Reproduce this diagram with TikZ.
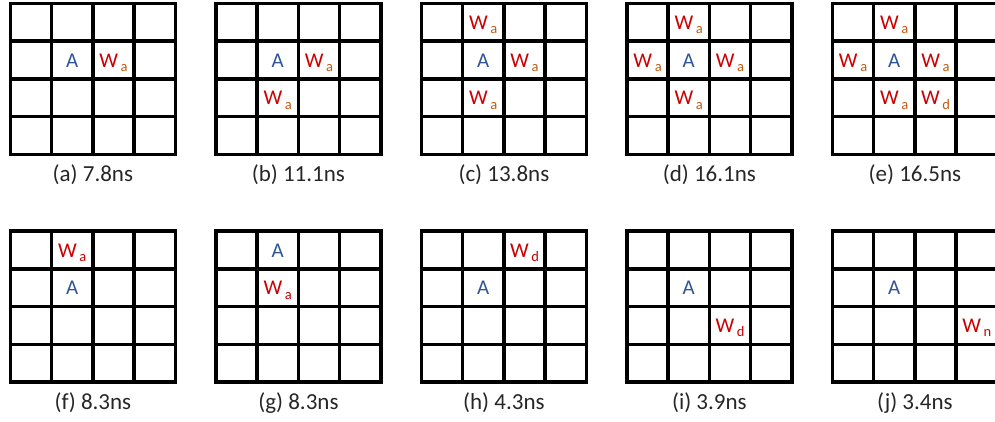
\documentclass[tikz,border=0pt]{standalone}
\usepackage{fontspec}
\setmainfont{Carlito}
\definecolor{cblue}{RGB}{47,85,151}
\definecolor{cred}{RGB}{204,0,0}
\definecolor{cbrown}{RGB}{197,90,17}
\definecolor{clabel}{RGB}{38,38,38}
\tikzset{
  gridline/.style={line width=3.5pt, line cap=rect, black},
  celltext/.style={anchor=base, inner sep=0pt, font=\fontsize{21}{24}\selectfont},
  atext/.style={celltext, text=cblue},
  wtext/.style={celltext, text=cred},
  captext/.style={anchor=base, inner sep=0pt, text=clabel, font=\fontsize{23}{26}\selectfont}
}
\newcommand\Wsub[2]{W\kern2.6pt\raisebox{-4.3pt}{\fontsize{14.5}{15}\selectfont\color{#1}#2}}
% grid: #1 grid column index, #2 grid row index
\newcommand\mygrid[2]{%
  \foreach \i in {0,...,4}{
    \draw[gridline] ({10.5+205.5*#1+\i*41.2},{3.3+227.7*#2}) -- ({10.5+205.5*#1+\i*41.2},{3.3+227.7*#2+151.2});
    \draw[gridline] ({10.5+205.5*#1},{3.3+227.7*#2+\i*37.8}) -- ({10.5+205.5*#1+164.8},{3.3+227.7*#2+\i*37.8});
  }
}
% A: name, grid col, grid row, cell col, cell row
\newcommand\putA[5]{\node[atext] (#1) at ({10.5+205.5*#2+41.2*#4+20.6},{3.3+227.7*#3+37.8*#5+26}) {A};}
% W: name, grid col, grid row, cell col, cell row, sub colour, sub text
\newcommand\putW[7]{\node[wtext] (#1) at ({10.5+205.5*#2+41.2*#4+20.6},{3.3+227.7*#3+37.8*#5+26}) {\Wsub{#6}{#7}};}
% caption: name, grid col, grid row, text
\newcommand\putcap[4]{\node[captext] (#1) at ({10.5+205.5*#2+82.4},{3.3+227.7*#3+151.2+27}) {#4};}
\begin{document}
\begin{tikzpicture}[x=1pt,y=-1pt]
\useasboundingbox (0,0) rectangle (995,421);
\clip (0,0) rectangle (995,421);
\foreach \g in {0,...,4}{\mygrid{\g}{0} \mygrid{\g}{1}}
% (a)
\putA{aA}{0}{0}{1}{1}
\putW{aW1}{0}{0}{2}{1}{cbrown}{a}
\putcap{capa}{0}{0}{(a) 7.8ns}
% (b)
\putA{bA}{1}{0}{1}{1}
\putW{bW1}{1}{0}{2}{1}{cbrown}{a}
\putW{bW2}{1}{0}{1}{2}{cbrown}{a}
\putcap{capb}{1}{0}{(b) 11.1ns}
% (c)
\putW{cW0}{2}{0}{1}{0}{cbrown}{a}
\putA{cA}{2}{0}{1}{1}
\putW{cW1}{2}{0}{2}{1}{cbrown}{a}
\putW{cW2}{2}{0}{1}{2}{cbrown}{a}
\putcap{capc}{2}{0}{(c) 13.8ns}
% (d)
\putW{dW0}{3}{0}{1}{0}{cbrown}{a}
\putW{dW3}{3}{0}{0}{1}{cbrown}{a}
\putA{dA}{3}{0}{1}{1}
\putW{dW1}{3}{0}{2}{1}{cbrown}{a}
\putW{dW2}{3}{0}{1}{2}{cbrown}{a}
\putcap{capd}{3}{0}{(d) 16.1ns}
% (e)
\putW{eW0}{4}{0}{1}{0}{cbrown}{a}
\putW{eW3}{4}{0}{0}{1}{cbrown}{a}
\putA{eA}{4}{0}{1}{1}
\putW{eW1}{4}{0}{2}{1}{cbrown}{a}
\putW{eW2}{4}{0}{1}{2}{cbrown}{a}
\putW{eW4}{4}{0}{2}{2}{cbrown}{d}
\putcap{cape}{4}{0}{(e) 16.5ns}
% (f)
\putW{fW}{0}{1}{1}{0}{cred}{a}
\putA{fA}{0}{1}{1}{1}
\putcap{capf}{0}{1}{(f) 8.3ns}
% (g)
\putA{gA}{1}{1}{1}{0}
\putW{gW}{1}{1}{1}{1}{cred}{a}
\putcap{capg}{1}{1}{(g) 8.3ns}
% (h)
\putW{hW}{2}{1}{2}{0}{cred}{d}
\putA{hA}{2}{1}{1}{1}
\putcap{caph}{2}{1}{(h) 4.3ns}
% (i)
\putA{iA}{3}{1}{1}{1}
\putW{iW}{3}{1}{2}{2}{cred}{d}
\putcap{capi}{3}{1}{(i) 3.9ns}
% (j)
\putA{jA}{4}{1}{1}{1}
\putW{jW}{4}{1}{3}{2}{cred}{n}
\putcap{capj}{4}{1}{(j) 3.4ns}
\end{tikzpicture}
\end{document}
